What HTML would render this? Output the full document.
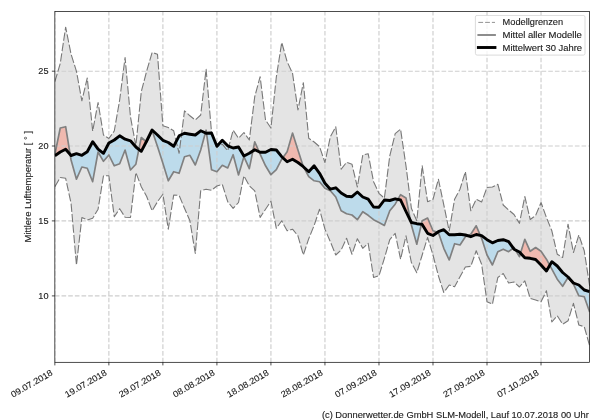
<!DOCTYPE html>
<html><head><meta charset="utf-8"><title>Mittlere Lufttemperatur</title>
<style>html,body{margin:0;padding:0;background:#fff;}svg{display:block;}text{font-family:"Liberation Sans",sans-serif;fill:#1a1a1a;stroke:#1a1a1a;stroke-width:0.12px;}</style></head><body>
<svg width="600" height="420" viewBox="0 0 600 420">
<rect width="600" height="420" fill="#fff"/>
<defs>
<clipPath id="ax"><rect x="54.85" y="11.62" width="534.8" height="350.68"/></clipPath>
<clipPath id="aboveBlack"><polygon points="54.85,11.62 54.85,155.80 60.25,152.00 65.65,149.20 71.06,155.50 76.46,153.70 81.86,155.30 87.26,151.70 92.66,141.70 98.07,149.20 103.47,153.30 108.87,143.00 114.27,140.00 119.67,135.80 125.08,139.20 130.48,140.80 135.88,147.00 141.28,151.30 146.68,141.00 152.09,130.00 157.49,135.00 162.89,140.30 168.29,142.50 173.69,146.30 179.10,135.80 184.50,133.30 189.90,134.20 195.30,135.00 200.70,130.80 206.11,133.30 211.51,133.00 216.91,146.30 222.31,140.30 227.71,145.80 233.12,148.00 238.52,147.00 243.92,156.00 249.32,153.30 254.72,149.70 260.13,152.20 265.53,152.20 270.93,149.50 276.33,150.00 281.73,156.70 287.14,161.70 292.54,159.20 297.94,162.50 303.34,166.70 308.74,171.70 314.15,165.80 319.55,173.30 324.95,183.30 330.35,189.20 335.76,187.80 341.16,193.00 346.56,196.30 351.96,196.70 357.36,192.00 362.77,197.00 368.17,199.20 373.57,207.00 378.97,207.20 384.37,200.00 389.78,200.50 395.18,198.80 400.58,200.00 405.98,211.50 411.38,222.50 416.79,223.70 422.19,224.40 427.59,233.30 432.99,235.50 438.39,231.70 443.80,229.70 449.20,234.70 454.60,234.70 460.00,234.20 465.40,235.00 470.81,236.70 476.21,234.50 481.61,235.60 487.01,239.70 492.41,242.80 497.82,240.50 503.22,239.70 508.62,241.70 514.02,249.20 519.42,252.00 524.83,257.80 530.23,258.30 535.63,259.50 541.03,265.00 546.43,271.00 551.84,261.70 557.24,266.00 562.64,272.50 568.04,277.00 573.44,283.00 578.85,285.00 584.25,290.00 589.65,291.70 589.65,11.62"/></clipPath>
<clipPath id="belowBlack"><polygon points="54.85,362.3 54.85,155.80 60.25,152.00 65.65,149.20 71.06,155.50 76.46,153.70 81.86,155.30 87.26,151.70 92.66,141.70 98.07,149.20 103.47,153.30 108.87,143.00 114.27,140.00 119.67,135.80 125.08,139.20 130.48,140.80 135.88,147.00 141.28,151.30 146.68,141.00 152.09,130.00 157.49,135.00 162.89,140.30 168.29,142.50 173.69,146.30 179.10,135.80 184.50,133.30 189.90,134.20 195.30,135.00 200.70,130.80 206.11,133.30 211.51,133.00 216.91,146.30 222.31,140.30 227.71,145.80 233.12,148.00 238.52,147.00 243.92,156.00 249.32,153.30 254.72,149.70 260.13,152.20 265.53,152.20 270.93,149.50 276.33,150.00 281.73,156.70 287.14,161.70 292.54,159.20 297.94,162.50 303.34,166.70 308.74,171.70 314.15,165.80 319.55,173.30 324.95,183.30 330.35,189.20 335.76,187.80 341.16,193.00 346.56,196.30 351.96,196.70 357.36,192.00 362.77,197.00 368.17,199.20 373.57,207.00 378.97,207.20 384.37,200.00 389.78,200.50 395.18,198.80 400.58,200.00 405.98,211.50 411.38,222.50 416.79,223.70 422.19,224.40 427.59,233.30 432.99,235.50 438.39,231.70 443.80,229.70 449.20,234.70 454.60,234.70 460.00,234.20 465.40,235.00 470.81,236.70 476.21,234.50 481.61,235.60 487.01,239.70 492.41,242.80 497.82,240.50 503.22,239.70 508.62,241.70 514.02,249.20 519.42,252.00 524.83,257.80 530.23,258.30 535.63,259.50 541.03,265.00 546.43,271.00 551.84,261.70 557.24,266.00 562.64,272.50 568.04,277.00 573.44,283.00 578.85,285.00 584.25,290.00 589.65,291.70 589.65,362.3"/></clipPath>
</defs>
<g clip-path="url(#ax)">
<polygon points="54.85,81.70 60.25,63.50 65.65,27.20 71.06,54.20 76.46,71.30 81.86,100.80 87.26,78.00 92.66,131.00 98.07,102.50 103.47,135.00 108.87,138.50 114.27,131.00 119.67,100.00 125.08,57.50 130.48,117.00 135.88,145.80 141.28,91.70 146.68,71.00 152.09,52.50 157.49,54.20 162.89,125.80 168.29,127.50 173.69,130.80 179.10,153.30 184.50,110.80 189.90,115.80 195.30,120.00 200.70,115.00 206.11,69.20 211.51,132.00 216.91,146.70 222.31,144.20 227.71,150.80 233.12,130.20 238.52,138.30 243.92,132.50 249.32,140.00 254.72,96.70 260.13,76.70 265.53,120.00 270.93,128.00 276.33,77.00 281.73,42.50 287.14,61.70 292.54,73.30 297.94,110.00 303.34,82.70 308.74,138.30 314.15,142.00 319.55,146.70 324.95,162.50 330.35,136.70 335.76,126.80 341.16,169.20 346.56,162.30 351.96,164.20 357.36,187.00 362.77,155.00 368.17,153.70 373.57,181.70 378.97,193.30 384.37,198.20 389.78,155.80 395.18,133.70 400.58,129.20 405.98,165.80 411.38,208.30 416.79,220.80 422.19,165.80 427.59,201.70 432.99,199.30 438.39,179.20 443.80,204.80 449.20,231.00 454.60,199.20 460.00,189.20 465.40,171.70 470.81,210.80 476.21,199.20 481.61,202.00 487.01,187.50 492.41,187.00 497.82,184.20 503.22,205.00 508.62,210.00 514.02,214.50 519.42,223.30 524.83,196.50 530.23,219.50 535.63,215.50 541.03,202.50 546.43,217.50 551.84,230.80 557.24,254.20 562.64,257.50 568.04,224.20 573.44,252.50 578.85,235.00 584.25,250.80 589.65,286.00 589.65,345.80 584.25,326.70 578.85,325.00 573.44,303.30 568.04,320.80 562.64,324.20 557.24,315.80 551.84,322.00 546.43,290.80 541.03,301.70 535.63,300.00 530.23,298.30 524.83,280.80 519.42,287.00 514.02,282.00 508.62,283.00 503.22,273.50 497.82,277.50 492.41,304.20 487.01,301.70 481.61,264.20 476.21,250.80 470.81,266.30 465.40,267.00 460.00,276.70 454.60,286.70 449.20,285.00 443.80,292.50 438.39,275.80 432.99,255.00 427.59,237.50 422.19,255.00 416.79,272.70 411.38,262.50 405.98,235.80 400.58,259.20 395.18,233.30 389.78,239.60 384.37,258.30 378.97,275.80 373.57,277.50 368.17,243.30 362.77,248.30 357.36,238.70 351.96,254.20 346.56,238.30 341.16,250.00 335.76,255.00 330.35,241.70 324.95,229.20 319.55,209.20 314.15,225.40 308.74,238.70 303.34,255.00 297.94,235.80 292.54,229.20 287.14,230.80 281.73,220.80 276.33,228.30 270.93,201.30 265.53,209.20 260.13,217.50 254.72,190.80 249.32,185.80 243.92,175.80 238.52,202.50 233.12,208.30 227.71,201.70 222.31,184.50 216.91,186.00 211.51,190.30 206.11,189.20 200.70,190.80 195.30,253.50 189.90,220.80 184.50,208.30 179.10,195.30 173.69,195.00 168.29,229.20 162.89,194.20 157.49,201.70 152.09,210.80 146.68,196.50 141.28,186.70 135.88,172.50 130.48,217.50 125.08,217.20 119.67,208.70 114.27,216.70 108.87,175.80 103.47,175.80 98.07,209.20 92.66,218.30 87.26,220.00 81.86,217.50 76.46,265.00 71.06,203.30 65.65,178.30 60.25,177.50 54.85,186.70" fill="#7a7a7a" fill-opacity="0.2"/>
<g clip-path="url(#aboveBlack)"><polygon points="54.85,362.3 54.85,154.50 60.25,128.00 65.65,126.70 71.06,160.00 76.46,179.20 81.86,167.00 87.26,168.30 92.66,181.70 98.07,152.00 103.47,161.30 108.87,155.00 114.27,165.80 119.67,163.70 125.08,150.00 130.48,170.00 135.88,164.20 141.28,137.50 146.68,142.00 152.09,130.50 157.49,146.60 162.89,163.30 168.29,180.80 173.69,171.70 179.10,173.30 184.50,156.70 189.90,155.30 195.30,165.00 200.70,150.00 206.11,130.20 211.51,169.70 216.91,171.70 222.31,165.30 227.71,168.00 233.12,154.70 238.52,175.00 243.92,156.70 249.32,168.70 254.72,141.90 260.13,154.20 265.53,165.80 270.93,174.70 276.33,169.70 281.73,159.20 287.14,151.70 292.54,133.10 297.94,150.00 303.34,166.70 308.74,176.70 314.15,180.80 319.55,181.70 324.95,188.30 330.35,190.80 335.76,197.00 341.16,210.80 346.56,213.70 351.96,215.00 357.36,219.70 362.77,211.70 368.17,215.30 373.57,219.70 378.97,222.50 384.37,225.50 389.78,210.80 395.18,204.20 400.58,194.70 405.98,198.00 411.38,225.00 416.79,244.20 422.19,220.80 427.59,218.00 432.99,230.80 438.39,232.50 443.80,248.30 449.20,260.00 454.60,243.70 460.00,245.00 465.40,236.70 470.81,234.20 476.21,225.80 481.61,238.30 487.01,255.00 492.41,265.00 497.82,251.70 503.22,249.20 508.62,251.70 514.02,247.50 519.42,256.70 524.83,239.30 530.23,251.30 535.63,247.50 541.03,251.30 546.43,259.20 551.84,269.20 557.24,279.20 562.64,286.30 568.04,277.50 573.44,284.20 578.85,295.80 584.25,296.70 589.65,312.00 589.65,362.3" fill="rgb(252,142,122)" fill-opacity="0.5"/></g>
<g clip-path="url(#belowBlack)"><polygon points="54.85,11.62 54.85,154.50 60.25,128.00 65.65,126.70 71.06,160.00 76.46,179.20 81.86,167.00 87.26,168.30 92.66,181.70 98.07,152.00 103.47,161.30 108.87,155.00 114.27,165.80 119.67,163.70 125.08,150.00 130.48,170.00 135.88,164.20 141.28,137.50 146.68,142.00 152.09,130.50 157.49,146.60 162.89,163.30 168.29,180.80 173.69,171.70 179.10,173.30 184.50,156.70 189.90,155.30 195.30,165.00 200.70,150.00 206.11,130.20 211.51,169.70 216.91,171.70 222.31,165.30 227.71,168.00 233.12,154.70 238.52,175.00 243.92,156.70 249.32,168.70 254.72,141.90 260.13,154.20 265.53,165.80 270.93,174.70 276.33,169.70 281.73,159.20 287.14,151.70 292.54,133.10 297.94,150.00 303.34,166.70 308.74,176.70 314.15,180.80 319.55,181.70 324.95,188.30 330.35,190.80 335.76,197.00 341.16,210.80 346.56,213.70 351.96,215.00 357.36,219.70 362.77,211.70 368.17,215.30 373.57,219.70 378.97,222.50 384.37,225.50 389.78,210.80 395.18,204.20 400.58,194.70 405.98,198.00 411.38,225.00 416.79,244.20 422.19,220.80 427.59,218.00 432.99,230.80 438.39,232.50 443.80,248.30 449.20,260.00 454.60,243.70 460.00,245.00 465.40,236.70 470.81,234.20 476.21,225.80 481.61,238.30 487.01,255.00 492.41,265.00 497.82,251.70 503.22,249.20 508.62,251.70 514.02,247.50 519.42,256.70 524.83,239.30 530.23,251.30 535.63,247.50 541.03,251.30 546.43,259.20 551.84,269.20 557.24,279.20 562.64,286.30 568.04,277.50 573.44,284.20 578.85,295.80 584.25,296.70 589.65,312.00 589.65,11.62" fill="rgb(150,210,242)" fill-opacity="0.5"/></g>
<line x1="54.85" y1="362.3" x2="54.85" y2="11.62" stroke="#cecece" stroke-width="1.15" stroke-dasharray="4.65 2.017"/>
<line x1="108.87" y1="362.3" x2="108.87" y2="11.62" stroke="#cecece" stroke-width="1.15" stroke-dasharray="4.65 2.017"/>
<line x1="162.89" y1="362.3" x2="162.89" y2="11.62" stroke="#cecece" stroke-width="1.15" stroke-dasharray="4.65 2.017"/>
<line x1="216.91" y1="362.3" x2="216.91" y2="11.62" stroke="#cecece" stroke-width="1.15" stroke-dasharray="4.65 2.017"/>
<line x1="270.93" y1="362.3" x2="270.93" y2="11.62" stroke="#cecece" stroke-width="1.15" stroke-dasharray="4.65 2.017"/>
<line x1="324.95" y1="362.3" x2="324.95" y2="11.62" stroke="#cecece" stroke-width="1.15" stroke-dasharray="4.65 2.017"/>
<line x1="378.97" y1="362.3" x2="378.97" y2="11.62" stroke="#cecece" stroke-width="1.15" stroke-dasharray="4.65 2.017"/>
<line x1="432.99" y1="362.3" x2="432.99" y2="11.62" stroke="#cecece" stroke-width="1.15" stroke-dasharray="4.65 2.017"/>
<line x1="487.01" y1="362.3" x2="487.01" y2="11.62" stroke="#cecece" stroke-width="1.15" stroke-dasharray="4.65 2.017"/>
<line x1="541.03" y1="362.3" x2="541.03" y2="11.62" stroke="#cecece" stroke-width="1.15" stroke-dasharray="4.65 2.017"/>
<line x1="54.85" y1="71.2" x2="589.65" y2="71.2" stroke="#cecece" stroke-width="1.15" stroke-dasharray="4.65 2.017"/>
<line x1="54.85" y1="146.0" x2="589.65" y2="146.0" stroke="#cecece" stroke-width="1.15" stroke-dasharray="4.65 2.017"/>
<line x1="54.85" y1="220.9" x2="589.65" y2="220.9" stroke="#cecece" stroke-width="1.15" stroke-dasharray="4.65 2.017"/>
<line x1="54.85" y1="295.9" x2="589.65" y2="295.9" stroke="#cecece" stroke-width="1.15" stroke-dasharray="4.65 2.017"/>
<polyline points="54.85,81.70 60.25,63.50 65.65,27.20 71.06,54.20 76.46,71.30 81.86,100.80 87.26,78.00 92.66,131.00 98.07,102.50 103.47,135.00 108.87,138.50 114.27,131.00 119.67,100.00 125.08,57.50 130.48,117.00 135.88,145.80 141.28,91.70 146.68,71.00 152.09,52.50 157.49,54.20 162.89,125.80 168.29,127.50 173.69,130.80 179.10,153.30 184.50,110.80 189.90,115.80 195.30,120.00 200.70,115.00 206.11,69.20 211.51,132.00 216.91,146.70 222.31,144.20 227.71,150.80 233.12,130.20 238.52,138.30 243.92,132.50 249.32,140.00 254.72,96.70 260.13,76.70 265.53,120.00 270.93,128.00 276.33,77.00 281.73,42.50 287.14,61.70 292.54,73.30 297.94,110.00 303.34,82.70 308.74,138.30 314.15,142.00 319.55,146.70 324.95,162.50 330.35,136.70 335.76,126.80 341.16,169.20 346.56,162.30 351.96,164.20 357.36,187.00 362.77,155.00 368.17,153.70 373.57,181.70 378.97,193.30 384.37,198.20 389.78,155.80 395.18,133.70 400.58,129.20 405.98,165.80 411.38,208.30 416.79,220.80 422.19,165.80 427.59,201.70 432.99,199.30 438.39,179.20 443.80,204.80 449.20,231.00 454.60,199.20 460.00,189.20 465.40,171.70 470.81,210.80 476.21,199.20 481.61,202.00 487.01,187.50 492.41,187.00 497.82,184.20 503.22,205.00 508.62,210.00 514.02,214.50 519.42,223.30 524.83,196.50 530.23,219.50 535.63,215.50 541.03,202.50 546.43,217.50 551.84,230.80 557.24,254.20 562.64,257.50 568.04,224.20 573.44,252.50 578.85,235.00 584.25,250.80 589.65,286.00" fill="none" stroke="#787878" stroke-width="1.1" stroke-dasharray="8.3 2.2" stroke-linejoin="round"/>
<polyline points="54.85,186.70 60.25,177.50 65.65,178.30 71.06,203.30 76.46,265.00 81.86,217.50 87.26,220.00 92.66,218.30 98.07,209.20 103.47,175.80 108.87,175.80 114.27,216.70 119.67,208.70 125.08,217.20 130.48,217.50 135.88,172.50 141.28,186.70 146.68,196.50 152.09,210.80 157.49,201.70 162.89,194.20 168.29,229.20 173.69,195.00 179.10,195.30 184.50,208.30 189.90,220.80 195.30,253.50 200.70,190.80 206.11,189.20 211.51,190.30 216.91,186.00 222.31,184.50 227.71,201.70 233.12,208.30 238.52,202.50 243.92,175.80 249.32,185.80 254.72,190.80 260.13,217.50 265.53,209.20 270.93,201.30 276.33,228.30 281.73,220.80 287.14,230.80 292.54,229.20 297.94,235.80 303.34,255.00 308.74,238.70 314.15,225.40 319.55,209.20 324.95,229.20 330.35,241.70 335.76,255.00 341.16,250.00 346.56,238.30 351.96,254.20 357.36,238.70 362.77,248.30 368.17,243.30 373.57,277.50 378.97,275.80 384.37,258.30 389.78,239.60 395.18,233.30 400.58,259.20 405.98,235.80 411.38,262.50 416.79,272.70 422.19,255.00 427.59,237.50 432.99,255.00 438.39,275.80 443.80,292.50 449.20,285.00 454.60,286.70 460.00,276.70 465.40,267.00 470.81,266.30 476.21,250.80 481.61,264.20 487.01,301.70 492.41,304.20 497.82,277.50 503.22,273.50 508.62,283.00 514.02,282.00 519.42,287.00 524.83,280.80 530.23,298.30 535.63,300.00 541.03,301.70 546.43,290.80 551.84,322.00 557.24,315.80 562.64,324.20 568.04,320.80 573.44,303.30 578.85,325.00 584.25,326.70 589.65,345.80" fill="none" stroke="#787878" stroke-width="1.1" stroke-dasharray="8.3 2.2" stroke-linejoin="round"/>
<polyline points="54.85,154.50 60.25,128.00 65.65,126.70 71.06,160.00 76.46,179.20 81.86,167.00 87.26,168.30 92.66,181.70 98.07,152.00 103.47,161.30 108.87,155.00 114.27,165.80 119.67,163.70 125.08,150.00 130.48,170.00 135.88,164.20 141.28,137.50 146.68,142.00 152.09,130.50 157.49,146.60 162.89,163.30 168.29,180.80 173.69,171.70 179.10,173.30 184.50,156.70 189.90,155.30 195.30,165.00 200.70,150.00 206.11,130.20 211.51,169.70 216.91,171.70 222.31,165.30 227.71,168.00 233.12,154.70 238.52,175.00 243.92,156.70 249.32,168.70 254.72,141.90 260.13,154.20 265.53,165.80 270.93,174.70 276.33,169.70 281.73,159.20 287.14,151.70 292.54,133.10 297.94,150.00 303.34,166.70 308.74,176.70 314.15,180.80 319.55,181.70 324.95,188.30 330.35,190.80 335.76,197.00 341.16,210.80 346.56,213.70 351.96,215.00 357.36,219.70 362.77,211.70 368.17,215.30 373.57,219.70 378.97,222.50 384.37,225.50 389.78,210.80 395.18,204.20 400.58,194.70 405.98,198.00 411.38,225.00 416.79,244.20 422.19,220.80 427.59,218.00 432.99,230.80 438.39,232.50 443.80,248.30 449.20,260.00 454.60,243.70 460.00,245.00 465.40,236.70 470.81,234.20 476.21,225.80 481.61,238.30 487.01,255.00 492.41,265.00 497.82,251.70 503.22,249.20 508.62,251.70 514.02,247.50 519.42,256.70 524.83,239.30 530.23,251.30 535.63,247.50 541.03,251.30 546.43,259.20 551.84,269.20 557.24,279.20 562.64,286.30 568.04,277.50 573.44,284.20 578.85,295.80 584.25,296.70 589.65,312.00" fill="none" stroke="#808080" stroke-width="1.67" stroke-linejoin="round"/>
<polyline points="54.85,155.80 60.25,152.00 65.65,149.20 71.06,155.50 76.46,153.70 81.86,155.30 87.26,151.70 92.66,141.70 98.07,149.20 103.47,153.30 108.87,143.00 114.27,140.00 119.67,135.80 125.08,139.20 130.48,140.80 135.88,147.00 141.28,151.30 146.68,141.00 152.09,130.00 157.49,135.00 162.89,140.30 168.29,142.50 173.69,146.30 179.10,135.80 184.50,133.30 189.90,134.20 195.30,135.00 200.70,130.80 206.11,133.30 211.51,133.00 216.91,146.30 222.31,140.30 227.71,145.80 233.12,148.00 238.52,147.00 243.92,156.00 249.32,153.30 254.72,149.70 260.13,152.20 265.53,152.20 270.93,149.50 276.33,150.00 281.73,156.70 287.14,161.70 292.54,159.20 297.94,162.50 303.34,166.70 308.74,171.70 314.15,165.80 319.55,173.30 324.95,183.30 330.35,189.20 335.76,187.80 341.16,193.00 346.56,196.30 351.96,196.70 357.36,192.00 362.77,197.00 368.17,199.20 373.57,207.00 378.97,207.20 384.37,200.00 389.78,200.50 395.18,198.80 400.58,200.00 405.98,211.50 411.38,222.50 416.79,223.70 422.19,224.40 427.59,233.30 432.99,235.50 438.39,231.70 443.80,229.70 449.20,234.70 454.60,234.70 460.00,234.20 465.40,235.00 470.81,236.70 476.21,234.50 481.61,235.60 487.01,239.70 492.41,242.80 497.82,240.50 503.22,239.70 508.62,241.70 514.02,249.20 519.42,252.00 524.83,257.80 530.23,258.30 535.63,259.50 541.03,265.00 546.43,271.00 551.84,261.70 557.24,266.00 562.64,272.50 568.04,277.00 573.44,283.00 578.85,285.00 584.25,290.00 589.65,291.70" fill="none" stroke="#000" stroke-width="2.9" stroke-linejoin="round"/>
</g>
<rect x="54.85" y="11.62" width="534.8" height="350.68" fill="none" stroke="#000" stroke-width="0.7"/>
<line x1="54.85" y1="362.3" x2="54.85" y2="365.40000000000003" stroke="#000" stroke-width="0.7"/>
<line x1="108.87" y1="362.3" x2="108.87" y2="365.40000000000003" stroke="#000" stroke-width="0.7"/>
<line x1="162.89" y1="362.3" x2="162.89" y2="365.40000000000003" stroke="#000" stroke-width="0.7"/>
<line x1="216.91" y1="362.3" x2="216.91" y2="365.40000000000003" stroke="#000" stroke-width="0.7"/>
<line x1="270.93" y1="362.3" x2="270.93" y2="365.40000000000003" stroke="#000" stroke-width="0.7"/>
<line x1="324.95" y1="362.3" x2="324.95" y2="365.40000000000003" stroke="#000" stroke-width="0.7"/>
<line x1="378.97" y1="362.3" x2="378.97" y2="365.40000000000003" stroke="#000" stroke-width="0.7"/>
<line x1="432.99" y1="362.3" x2="432.99" y2="365.40000000000003" stroke="#000" stroke-width="0.7"/>
<line x1="487.01" y1="362.3" x2="487.01" y2="365.40000000000003" stroke="#000" stroke-width="0.7"/>
<line x1="541.03" y1="362.3" x2="541.03" y2="365.40000000000003" stroke="#000" stroke-width="0.7"/>
<line x1="54.85" y1="71.2" x2="51.85" y2="71.2" stroke="#000" stroke-width="0.7"/>
<line x1="54.85" y1="146.0" x2="51.85" y2="146.0" stroke="#000" stroke-width="0.7"/>
<line x1="54.85" y1="220.9" x2="51.85" y2="220.9" stroke="#000" stroke-width="0.7"/>
<line x1="54.85" y1="295.9" x2="51.85" y2="295.9" stroke="#000" stroke-width="0.7"/>
<g opacity="0.999">
<text x="48.5" y="74.30" font-size="8.7" text-anchor="end" textLength="10.2" lengthAdjust="spacingAndGlyphs">25</text>
<text x="48.5" y="149.10" font-size="8.7" text-anchor="end" textLength="10.2" lengthAdjust="spacingAndGlyphs">20</text>
<text x="48.5" y="224.00" font-size="8.7" text-anchor="end" textLength="10.2" lengthAdjust="spacingAndGlyphs">15</text>
<text x="48.5" y="299.00" font-size="8.7" text-anchor="end" textLength="10.2" lengthAdjust="spacingAndGlyphs">10</text>
<text transform="translate(53.35,374.5) rotate(-30)" stroke="#1a1a1a" stroke-width="0.2" font-size="8.7" text-anchor="end" textLength="46.6" lengthAdjust="spacingAndGlyphs">09.07.2018</text>
<text transform="translate(107.37,374.5) rotate(-30)" stroke="#1a1a1a" stroke-width="0.2" font-size="8.7" text-anchor="end" textLength="46.6" lengthAdjust="spacingAndGlyphs">19.07.2018</text>
<text transform="translate(161.39,374.5) rotate(-30)" stroke="#1a1a1a" stroke-width="0.2" font-size="8.7" text-anchor="end" textLength="46.6" lengthAdjust="spacingAndGlyphs">29.07.2018</text>
<text transform="translate(215.41,374.5) rotate(-30)" stroke="#1a1a1a" stroke-width="0.2" font-size="8.7" text-anchor="end" textLength="46.6" lengthAdjust="spacingAndGlyphs">08.08.2018</text>
<text transform="translate(269.43,374.5) rotate(-30)" stroke="#1a1a1a" stroke-width="0.2" font-size="8.7" text-anchor="end" textLength="46.6" lengthAdjust="spacingAndGlyphs">18.08.2018</text>
<text transform="translate(323.45,374.5) rotate(-30)" stroke="#1a1a1a" stroke-width="0.2" font-size="8.7" text-anchor="end" textLength="46.6" lengthAdjust="spacingAndGlyphs">28.08.2018</text>
<text transform="translate(377.47,374.5) rotate(-30)" stroke="#1a1a1a" stroke-width="0.2" font-size="8.7" text-anchor="end" textLength="46.6" lengthAdjust="spacingAndGlyphs">07.09.2018</text>
<text transform="translate(431.49,374.5) rotate(-30)" stroke="#1a1a1a" stroke-width="0.2" font-size="8.7" text-anchor="end" textLength="46.6" lengthAdjust="spacingAndGlyphs">17.09.2018</text>
<text transform="translate(485.51,374.5) rotate(-30)" stroke="#1a1a1a" stroke-width="0.2" font-size="8.7" text-anchor="end" textLength="46.6" lengthAdjust="spacingAndGlyphs">27.09.2018</text>
<text transform="translate(539.53,374.5) rotate(-30)" stroke="#1a1a1a" stroke-width="0.2" font-size="8.7" text-anchor="end" textLength="46.6" lengthAdjust="spacingAndGlyphs">07.10.2018</text>
<text transform="translate(31,186.7) rotate(-90)" stroke="#1a1a1a" stroke-width="0.15" font-size="8.7" text-anchor="middle" textLength="111.5" lengthAdjust="spacingAndGlyphs">Mittlere Lufttemperatur [ ° ]</text>
<text x="588.9" y="418" font-size="8.7" text-anchor="end" textLength="267" lengthAdjust="spacingAndGlyphs">(c) Donnerwetter.de GmbH SLM-Modell, Lauf 10.07.2018 00 Uhr</text>
<rect x="475.4" y="15.4" width="109.6" height="39.7" rx="1.7" ry="1.7" fill="#fff" fill-opacity="0.8" stroke="#cccccc" stroke-width="0.7"/>
<line x1="478.3" y1="22.4" x2="495.0" y2="22.4" stroke="#808080" stroke-width="0.85" stroke-dasharray="4.8 2"/>
<line x1="477.4" y1="35.0" x2="495.9" y2="35.0" stroke="#808080" stroke-width="1.8"/>
<line x1="476.9" y1="47.5" x2="496.4" y2="47.5" stroke="#000" stroke-width="2.9"/>
<text x="502.6" y="25.2" font-size="8.7" textLength="60.5" lengthAdjust="spacingAndGlyphs">Modellgrenzen</text>
<text x="502.6" y="37.8" font-size="8.7" textLength="79.2" lengthAdjust="spacingAndGlyphs">Mittel aller Modelle</text>
<text x="502.6" y="50.5" font-size="8.7" textLength="79.4" lengthAdjust="spacingAndGlyphs">Mittelwert 30 Jahre</text>
</g>
</svg></body></html>
